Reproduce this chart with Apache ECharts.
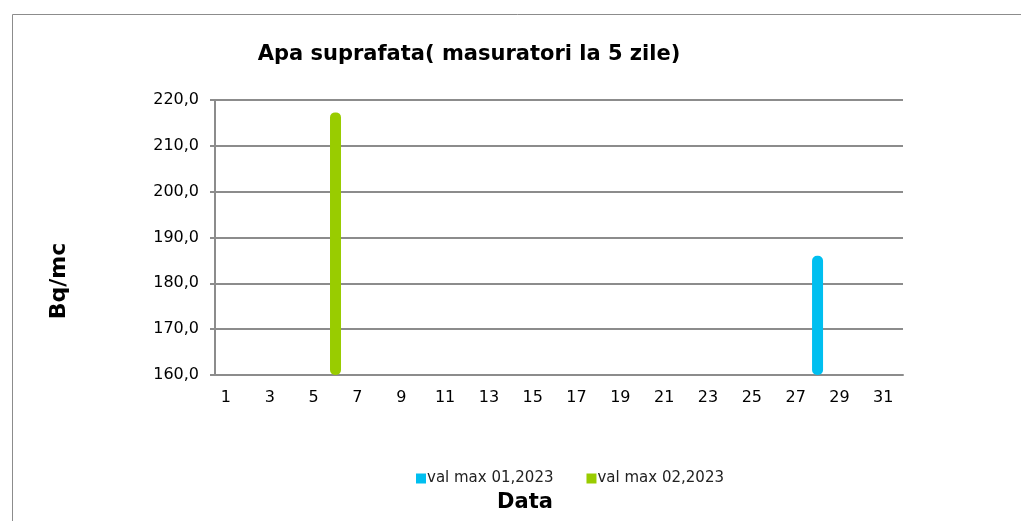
<!DOCTYPE html>
<html><head><meta charset="utf-8">
<script src="https://cdn.jsdelivr.net/npm/echarts@6/dist/echarts.min.js"></script>
<style>html,body{margin:0;padding:0;background:#fff}#c{width:1021px;height:521px}</style>
</head><body><div id="c"></div>
<script>
const titleText = "Apa suprafata( masuratori la 5 zile)";
const yAxisName = "Bq/mc";
const xAxisName = "Data";
const dayLabels = [1,3,5,7,9,11,13,15,17,19,21,23,25,27,29,31];
const seriesNames = ["val max 01,2023", "val max 02,2023"];
const seriesColors = ["#00BFF0", "#99CC00"];
const jan2023 = [[28, 186.0]];
const feb2023 = [[6, 217.3]];

const chart = echarts.init(document.getElementById('c'));
const font = "DejaVu Sans, Arial, sans-serif";
chart.setOption({
  animation: false,
  textStyle: {fontFamily: font},
  graphic: [
    {type:'rect', shape:{x:12.5,y:14.5,width:1100,height:600}, style:{fill:'none', stroke:'#8c8c8c', lineWidth:1}, silent:true},
    {type:'text', x:59, y:281, rotation:Math.PI/2, silent:true,
     style:{text:yAxisName, fill:'#000', font:'bold 22px ' + font, align:'center', verticalAlign:'middle'}},
    {type:'text', x:525, y:503, silent:true,
     style:{text:xAxisName, fill:'#000', font:'bold 21px ' + font, align:'center', verticalAlign:'middle'}}
  ],
  title: {text: titleText, left: 464, top: 39, textAlign:'center',
    textStyle:{fontSize:21, fontWeight:'bold', color:'#000', fontFamily:font}},
  legend: {top: 466, left: 411, itemWidth: 10, itemHeight: 10, itemGap: 33,
    icon: 'rect', textStyle:{fontSize:15, color:'#222', padding:[0,0,0,-4]}},
  grid: {left: 215, right: 118, top: 100, bottom: 146},
  xAxis: {type:'value', min:0.5, max:31.9,
    axisLine:{show:true, lineStyle:{color:'#8c8c8c', width:2}},
    axisTick:{show:false}, splitLine:{show:false},
    axisLabel:{customValues: dayLabels, fontSize:16, color:'#000', margin:15}},
  yAxis: {type:'value', min:160, max:220, interval:10,
    axisLine:{show:true, lineStyle:{color:'#8c8c8c', width:2}},
    axisTick:{show:true, length:5, lineStyle:{color:'#8c8c8c', width:2}},
    splitLine:{show:true, lineStyle:{color:'#8c8c8c', width:2}},
    axisLabel:{fontSize:16, color:'#000', margin:16, formatter: v => v.toFixed(1).replace('.', ',')}},
  series: [
    {name: seriesNames[0], type:'bar', data: jan2023, barWidth:11, barGap:'-100%',
     itemStyle:{color: seriesColors[0], borderRadius:5}},
    {name: seriesNames[1], type:'bar', data: feb2023, barWidth:11, barGap:'-100%',
     itemStyle:{color: seriesColors[1], borderRadius:5}}
  ]
});
</script></body></html>
